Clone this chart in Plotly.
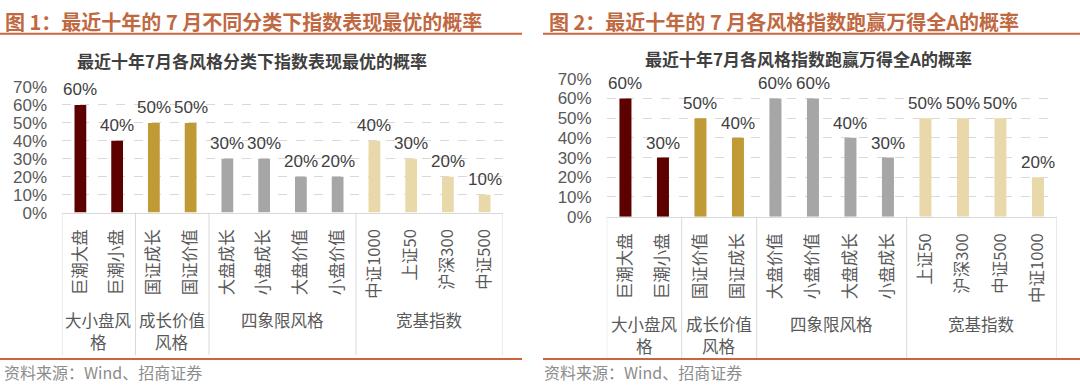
import plotly.graph_objects as go

# ---------------- data ----------------
cats1 = ["巨潮大盘", "巨潮小盘", "国证成长", "国证价值", "大盘成长", "小盘成长",
         "大盘价值", "小盘价值", "中证1000", "上证50", "沪深300", "中证500"]
vals1 = [0.6, 0.4, 0.5, 0.5, 0.3, 0.3, 0.2, 0.2, 0.4, 0.3, 0.2, 0.1]

cats2 = ["巨潮大盘", "巨潮小盘", "国证价值", "国证成长", "大盘价值", "小盘价值",
         "大盘成长", "小盘成长", "上证50", "沪深300", "中证500", "中证1000"]
vals2 = [0.6, 0.3, 0.5, 0.4, 0.6, 0.6, 0.4, 0.3, 0.5, 0.5, 0.5, 0.2]

groups = [["大小盘风", "格"], ["成长价值", "风格"], ["四象限风格"], ["宽基指数"]]
group_sizes = [2, 2, 4, 4]
group_colors = ["#5c0000", "#bf9a35", "#a6a6a6", "#e9d9aa"]

header1 = "图 1：最近十年的 7 月不同分类下指数表现最优的概率"
header2 = "图 2：最近十年的 7 月各风格指数跑赢万得全A的概率"
title1 = "最近十年7月各风格分类下指数表现最优的概率"
title2 = "最近十年7月各风格指数跑赢万得全A的概率"
source = "资料来源：Wind、招商证券"
yticks = [0, 0.1, 0.2, 0.3, 0.4, 0.5, 0.6, 0.7]

# ---------------- layout constants ----------------
W, H = 1080, 391
def px(x): return x / W
def py(y): return 1 - y / H

CJK = "Noto Sans CJK SC"
LAT = "Liberation Sans, Arial"
HEAD_COLOR = "#c0683f"
LINE_COLOR = "#c8673f"
TXT = "#595959"
GRID = "#d9d9d9"

bar_colors = []
for c, n in zip(group_colors, group_sizes):
    bar_colors += [c] * n

fig = go.Figure()

panels = [
    dict(cats=cats1, vals=vals1, xa="x", ya="y", xdom=[px(62), px(503)],
         ydom=[py(214), py(82)], div_bottom=364, grp_y=[327, 350], title=title1,
         title_x=252, title_y=54, header=header1, header_x=3, line_x=[0, 522],
         src_x=2, lab_shift=5),
    dict(cats=cats2, vals=vals2, xa="x2", ya="y2", xdom=[px(606.7), px(1056.7)],
         ydom=[py(218.3), py(73.3)], div_bottom=367, grp_y=[331, 354], title=title2,
         title_x=808, title_y=52, header=header2, header_x=547, line_x=[543, 1080],
         src_x=542, lab_shift=4),
]

shapes = []
annotations = []

for i, p in enumerate(panels):
    idx = list(range(len(p["cats"])))
    fig.add_trace(go.Bar(
        x=idx, y=p["vals"], xaxis=p["xa"], yaxis=p["ya"],
        marker=dict(color=bar_colors, line=dict(width=0)),
        showlegend=False, hoverinfo="skip",
    ))
    suffix = "" if i == 0 else "2"
    fig.update_layout(**{
        "xaxis" + suffix: dict(
            domain=p["xdom"], anchor=p["ya"], range=[-0.5, len(idx) - 0.5],
            tickmode="array", tickvals=idx, ticktext=p["cats"], tickangle=-90,
            tickfont=dict(family=CJK, size=16.5, color=TXT),
            showgrid=False, zeroline=False, showline=True, linecolor=GRID,
            linewidth=1, ticks="", ticklabelstandoff=9, fixedrange=True),
        "yaxis" + suffix: dict(
            domain=p["ydom"], anchor=p["xa"], range=[0, 0.7],
            tickmode="array", tickvals=yticks, tickformat=".0%",
            tickfont=dict(family=LAT, size=17, color=TXT),
            showgrid=True, gridcolor=GRID, griddash="dash", gridwidth=1,
            zeroline=False, showline=False, ticks="", ticklabelstandoff=14,
            fixedrange=True),
    })
    xref = p["xa"]
    yref = p["ya"]
    # value labels above bars
    for xi, v in zip(idx, p["vals"]):
        annotations.append(dict(text=f"{v:.0%}", xref=xref, yref=yref, x=xi, y=v,
                                xanchor="center", yanchor="bottom", yshift=p["lab_shift"],
                                showarrow=False, borderpad=0,
                                font=dict(family=LAT, size=17, color="#404040")))
    # group dividers
    edges = [-0.5]
    for n in group_sizes:
        edges.append(edges[-1] + n)
    for e in edges:
        shapes.append(dict(type="line", xref=xref, yref="paper", x0=e, x1=e,
                           y0=p["ydom"][0], y1=py(p["div_bottom"]),
                           line=dict(color=GRID, width=1)))
    # group labels (one annotation per line)
    for g, a, b in zip(groups, edges[:-1], edges[1:]):
        for k, line in enumerate(g):
            annotations.append(dict(text=line, xref=xref, yref="paper", x=(a + b) / 2,
                                    y=py(p["grp_y"][k]), xanchor="center", yanchor="middle",
                                    showarrow=False, align="center",
                                    font=dict(family=CJK, size=16.5, color=TXT)))
    # chart title
    annotations.append(dict(text="<b>" + p["title"] + "</b>", xref="paper", yref="paper",
                            x=px(p["title_x"]), y=py(p["title_y"]), xanchor="center",
                            yanchor="middle", showarrow=False, borderpad=0,
                            font=dict(family=CJK, size=17, color="#404040")))
    # header
    annotations.append(dict(text="<b>" + p["header"] + "</b>", xref="paper", yref="paper",
                            x=px(p["header_x"]), y=py(13), xanchor="left", yanchor="middle",
                            showarrow=False, font=dict(family=CJK, size=20, color=HEAD_COLOR)))
    # source
    annotations.append(dict(text=source, xref="paper", yref="paper",
                            x=px(p["src_x"]), y=py(382), xanchor="left", yanchor="middle",
                            showarrow=False, font=dict(family=CJK, size=16, color="#8c8c8c")))
    # header / footer rules
    for yy in (26, 368):
        shapes.append(dict(type="line", xref="paper", yref="paper",
                           x0=px(p["line_x"][0]), x1=px(p["line_x"][1]),
                           y0=py(yy), y1=py(yy), line=dict(color=LINE_COLOR, width=2)))

fig.update_layout(
    width=W, height=H, margin=dict(l=0, r=0, t=0, b=0),
    paper_bgcolor="white", plot_bgcolor="white",
    bargap=0.68, shapes=shapes, annotations=annotations,
    showlegend=False,
)

fig.write_html(
    "out.html",
    config={"displayModeBar": False, "staticPlot": True},
    post_script="document.body.style.margin='0';document.body.style.overflow='hidden';",
)
